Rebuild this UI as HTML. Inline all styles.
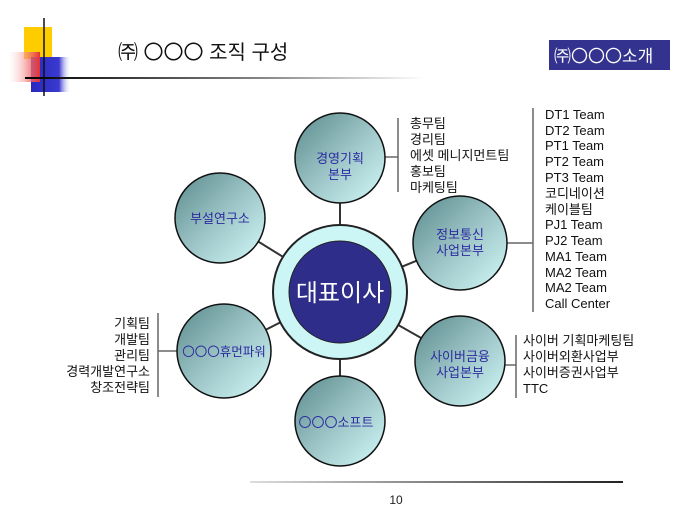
<!DOCTYPE html>
<html><head><meta charset="utf-8"><style>
body{margin:0;width:680px;height:510px;background:#fff;overflow:hidden;font-family:"Liberation Sans","Noto Sans CJK KR",sans-serif}
</style></head><body>
<svg width="680" height="510" viewBox="0 0 680 510" xmlns="http://www.w3.org/2000/svg" style="position:absolute;left:0;top:0">
<defs>
<linearGradient id="g" x1="0" y1="0" x2="1" y2="1">
<stop offset="0" stop-color="#5a8a8c"/><stop offset="0.5" stop-color="#9cc4c6"/><stop offset="1" stop-color="#d4fafa"/>
</linearGradient>
<linearGradient id="hl" x1="0" x2="1"><stop offset="0" stop-color="#000"/><stop offset="0.6" stop-color="#888"/><stop offset="1" stop-color="#fff"/></linearGradient>
<linearGradient id="bl" x1="0" x2="1"><stop offset="0" stop-color="#ddd"/><stop offset="1" stop-color="#222"/></linearGradient>
<linearGradient id="red" x1="0" x2="1"><stop offset="0" stop-color="#fff" stop-opacity="0.2"/><stop offset="1" stop-color="#e83030"/></linearGradient>
<linearGradient id="blu" x1="0" x2="1"><stop offset="0" stop-color="#2828c0"/><stop offset="0.7" stop-color="#3a3ad0"/><stop offset="1" stop-color="#fff" stop-opacity="0"/></linearGradient>
</defs>
<rect x="24" y="27" width="28" height="32" fill="#ffcc00"/>
<rect x="31" y="57" width="40" height="35" fill="url(#blu)"/>
<rect x="8" y="52" width="32" height="30" fill="url(#red)"/>
<line x1="44" y1="18" x2="44" y2="96" stroke="#111" stroke-width="1.5"/>
<rect x="25" y="77" width="400" height="2" fill="url(#hl)"/>
<text x="118" y="59" font-size="20" fill="#111">㈜ 〇〇〇 조직 구성</text>
<rect x="549" y="40" width="121" height="30" fill="#33338f"/>
<text x="554" y="62" font-size="17" fill="#fff">㈜〇〇〇소개</text>
<g stroke="#333" stroke-width="2">
<line x1="340" y1="292" x2="340" y2="157"/>
<line x1="340" y1="292" x2="220" y2="218"/>
<line x1="340" y1="292" x2="460" y2="243"/>
<line x1="340" y1="292" x2="460" y2="360"/>
<line x1="340" y1="292" x2="340" y2="422"/>
<line x1="340" y1="292" x2="224" y2="351"/>
</g>
<g stroke="#666" stroke-width="1.5">
<line x1="380" y1="157" x2="398" y2="157"/><line x1="398" y1="118" x2="398" y2="192"/>
<line x1="500" y1="243" x2="533" y2="243"/><line x1="533" y1="108" x2="533" y2="312"/>
<line x1="500" y1="365" x2="516" y2="365"/><line x1="516" y1="335" x2="516" y2="398"/>
<line x1="158" y1="351" x2="180" y2="351"/><line x1="158" y1="313" x2="158" y2="397"/>
</g>
<g stroke="#111" stroke-width="1.5" fill="url(#g)">
<circle cx="340" cy="158" r="45"/>
<circle cx="220" cy="218" r="45"/>
<circle cx="460" cy="243" r="47"/>
<circle cx="460" cy="361" r="45"/>
<circle cx="340" cy="421" r="45"/>
<circle cx="224" cy="351" r="47"/>
</g>
<circle cx="340" cy="292" r="67" fill="#ccf6f6" stroke="#222" stroke-width="2"/>
<circle cx="340" cy="292" r="51" fill="#2e2e8a" stroke="#222" stroke-width="1"/>
<text x="340" y="301" font-size="24" fill="#fff" text-anchor="middle">대표이사</text>
<g font-size="13" fill="#2c2ca0" text-anchor="middle">
<text x="340" y="163">경영기획</text><text x="340" y="179">본부</text>
<text x="220" y="223">부설연구소</text>
<text x="460" y="239">정보통신</text><text x="460" y="255">사업본부</text>
<text x="460" y="361">사이버금융</text><text x="460" y="377">사업본부</text>
<text x="336" y="427">〇〇〇소프트</text>
<text x="224" y="356" font-size="12.5">〇〇〇휴먼파워</text>
</g>
<g font-size="13" fill="#111">
<text x="410" y="128">총무팀</text><text x="410" y="144">경리팀</text><text x="410" y="160">에셋 메니지먼트팀</text><text x="410" y="176">홍보팀</text><text x="410" y="192">마케팅팀</text>
<text x="545" y="119">DT1 Team</text><text x="545" y="135">DT2 Team</text><text x="545" y="150">PT1 Team</text><text x="545" y="166">PT2 Team</text><text x="545" y="182">PT3 Team</text><text x="545" y="198">코디네이션</text><text x="545" y="214">케이블팀</text><text x="545" y="229">PJ1 Team</text><text x="545" y="245">PJ2 Team</text><text x="545" y="261">MA1 Team</text><text x="545" y="277">MA2 Team</text><text x="545" y="292">MA2 Team</text><text x="545" y="308">Call Center</text>
<text x="523" y="345">사이버 기획마케팅팀</text><text x="523" y="361">사이버외환사업부</text><text x="523" y="377">사이버증권사업부</text><text x="523" y="393">TTC</text>
<g text-anchor="end"><text x="150" y="328">기획팀</text><text x="150" y="344">개발팀</text><text x="150" y="360">관리팀</text><text x="150" y="376">경력개발연구소</text><text x="150" y="392">창조전략팀</text></g>
</g>
<rect x="250" y="481" width="373" height="2" fill="url(#bl)"/>
<text x="396" y="504" font-size="12" fill="#222" text-anchor="middle">10</text>
</svg>
</body></html>
